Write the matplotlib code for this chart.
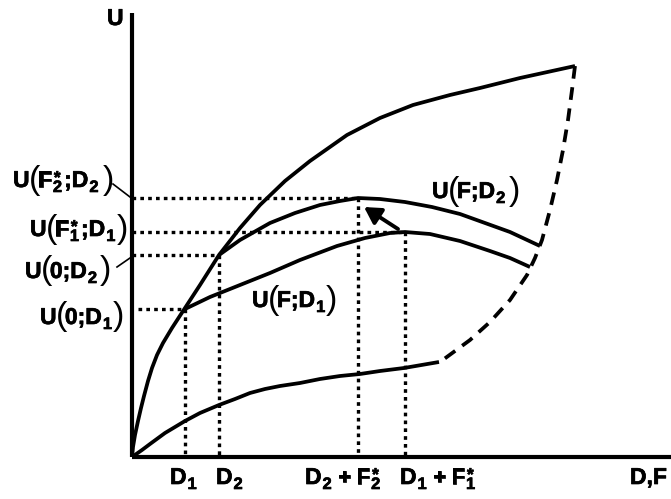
import numpy as np
import matplotlib
matplotlib.use("Agg")
import matplotlib.pyplot as plt
import matplotlib.patheffects as pe
from matplotlib.transforms import offset_copy

plt.rcParams['font.family'] = ['Liberation Sans', 'DejaVu Sans']
plt.rcParams['font.weight'] = 'bold'

# ---- curve data (chart units) ----
env_x = [0, 1, 3, 6, 9, 12, 16, 20, 25, 31, 40, 53, 68, 87, 108, 128, 153, 178, 215, 248, 281, 318, 348, 388, 443]
env_y = [0, 10, 22, 36, 49, 61, 76, 89, 102, 114, 129, 149, 172, 202, 229, 252, 276, 296, 322, 339, 352, 362, 369, 379, 391]

low_x = [0, 10, 18, 33, 53, 68, 87, 103, 118, 133, 148, 168, 188, 208, 228, 248, 272, 307]
low_y = [0, 7, 13, 24, 36, 44, 52, 58, 64, 68, 71, 74, 78, 81, 83, 86, 89, 95]

ud2_x = [87, 108, 138, 163, 188, 208, 226, 248, 273, 300, 328, 353, 378, 408]
ud2_y = [202, 217, 234, 244, 252, 256, 259, 258, 255, 250, 243, 234, 225, 211]

ud1_x = [53, 78, 108, 138, 168, 205, 233, 258, 273, 298, 328, 358, 378, 398]
ud1_y = [148, 160, 172, 184, 197, 211, 219, 224, 225, 223, 216, 206, 199, 190]

front_x = [443, 440, 436, 431, 425, 418, 410, 403, 395, 378, 358, 338, 308]
front_y = [391, 367, 337, 307, 277, 247, 217, 199, 182, 157, 135, 117, 95]

# key points
D1, D2 = 53, 87
D1F1, D2F2 = 273, 226
U0D1, U0D2 = 148, 202
UF1D1, UF2D2 = 225, 259

XMAX, YMAX = 539, 444

fig = plt.figure(figsize=(6.71, 4.99), dpi=100)
ax = fig.add_axes([0, 0, 1, 1])
ax.set_xlim(-132, 539)
ax.set_ylim(-42, 457)
ax.axis('off')

LW = 2.7
# axes
ax.plot([0, 0], [0, YMAX], color='black', lw=3.0, solid_capstyle='butt')
ax.plot([0, XMAX], [0, 0], color='black', lw=3.0, solid_capstyle='butt')

# curves
for xs, ys in [(env_x, env_y), (low_x, low_y), (ud2_x, ud2_y), (ud1_x, ud1_y)]:
    ax.plot(xs, ys, color='black', lw=LW, solid_joinstyle='round', solid_capstyle='butt')
ax.plot(front_x, front_y, color='black', lw=LW, linestyle=(0, (3.4, 2.3)), dash_capstyle='butt')

# dotted guides
dot = dict(color='black', lw=2.4, linestyle=(0, (1.1, 1.25)), dash_capstyle='butt')
ax.plot([0, D2F2], [UF2D2, UF2D2], **dot)
ax.plot([0, D1F1], [UF1D1, UF1D1], **dot)
ax.plot([0, D2], [U0D2, U0D2], **dot)
ax.plot([6, D1], [U0D1, U0D1], **dot)
ax.plot([D1, D1], [U0D1, 0], **dot)
ax.plot([D2, D2], [U0D2, 0], **dot)
ax.plot([D2F2, D2F2], [UF2D2, 0], **dot)
ax.plot([D1F1, D1F1], [UF1D1, 0], **dot)

# leader lines and shift arrow
ax.plot([-19, -2], [273, 260], color='black', lw=1.2)
ax.plot([-15, -2], [190, 199], color='black', lw=1.2)
ax.annotate('', xy=(232, 250), xytext=(266, 228),
            arrowprops=dict(arrowstyle='-|>,head_length=0.7,head_width=0.4',
                            lw=2.8, color='black', mutation_scale=14,
                            shrinkA=0, shrinkB=0))

renderer = fig.canvas.get_renderer()
FS = 16.5
thick = [pe.withStroke(linewidth=0.5, foreground='black')]


def rich(x, y, parts, size=FS):
    """Lay out a label made of normal, subscript, sub+superscript and tall-paren pieces."""
    dx = 0.0

    def put(s, sz, ox, oy, weight='bold', effects=True):
        tr = offset_copy(ax.transData, fig=fig, x=ox, y=oy, units='dots')
        t = ax.text(x, y, s, transform=tr, fontsize=sz, fontweight=weight,
                    ha='left', va='baseline', color='black')
        if effects:
            t.set_path_effects(thick)
        return t.get_window_extent(renderer=renderer).width

    for p in parts:
        kind = p[0]
        gap = p[-1] if isinstance(p[-1], (int, float)) else 0
        if kind == 'n':
            dx += put(p[1], size, dx, 0) + 1 + gap
        elif kind == 'p':
            w = put(p[1], size * 1.5, dx - 2, -1.5, weight='normal', effects=False)
            dx += w - 4 + gap
        elif kind == 's':
            dx += put(p[1], size * 0.72, dx, -5) + 1 + gap
        elif kind == 'ss':
            w1 = put(p[1], size * 0.72, dx, -5)
            w2 = put(p[2], size * 0.75, dx + 1, 4)
            dx += max(w1, w2) + 2 + gap
        elif kind == 'g':
            dx += p[1]


rich(-25, 432, [('n', 'U')])
rich(-119, 270, [('n', 'U'), ('p', '('), ('n', 'F'), ('ss', '2', '*'), ('n', ';D'), ('s', '2', 5), ('p', ')')])
rich(-102, 221, [('n', 'U'), ('p', '('), ('n', 'F'), ('ss', '1', '*'), ('n', ';D'), ('s', '1', 2), ('p', ')')])
rich(-107, 179, [('n', 'U'), ('p', '('), ('n', '0;D'), ('s', '2', 4), ('p', ')')])
rich(-92, 133, [('n', 'U'), ('p', '('), ('n', '0;D'), ('s', '1', 2), ('p', ')')])
rich(120, 150, [('n', 'U'), ('p', '('), ('n', 'F;D'), ('s', '1', 2), ('p', ')')])
rich(300, 259, [('n', 'U'), ('p', '('), ('n', 'F;D'), ('s', '2', 4), ('p', ')')])

rich(38, -27, [('n', 'D'), ('s', '1')])
rich(84, -27, [('n', 'D'), ('s', '2')])
rich(173, -27, [('n', 'D'), ('s', '2', 5), ('n', '+'), ('g', 4), ('n', 'F'), ('ss', '2', '*')])
rich(268, -27, [('n', 'D'), ('s', '1', 5), ('n', '+'), ('g', 4), ('n', 'F'), ('ss', '1', '*')])
rich(498, -27, [('n', 'D,F')])

fig.savefig('out.png', dpi=100)
